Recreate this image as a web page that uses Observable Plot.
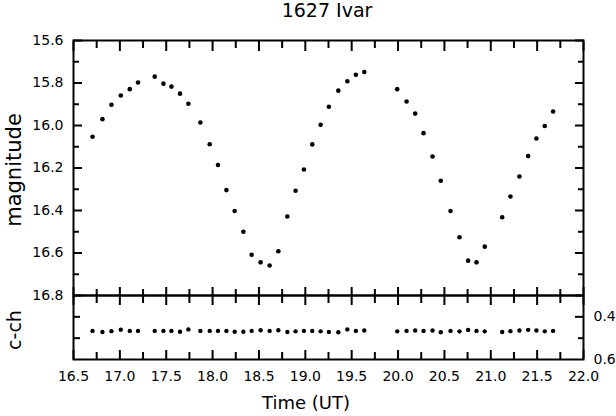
<!DOCTYPE html>
<html>
<head>
<meta charset="utf-8">
<script src="https://cdn.jsdelivr.net/npm/d3@7"></script>
<script src="https://cdn.jsdelivr.net/npm/@observablehq/plot@0.6"></script>
<style>
  body { margin: 0; background: #fff; }
  #chart { position: relative; width: 616px; height: 416px; overflow: hidden; background: #fff;
           font-family: "DejaVu Sans", sans-serif; color: #000; }
  #chart svg { position: absolute; left: 0; }
  .lbl { position: absolute; white-space: nowrap; line-height: 1; color: #000; }
</style>
</head>
<body>
<div id="chart"></div>
<script>
// ---- data ----
const times = [
  16.705, 16.812, 16.909, 17.010, 17.107, 17.196,
  17.376, 17.470, 17.556, 17.649, 17.739,
  17.868, 17.969, 18.058, 18.149, 18.238, 18.332, 18.421, 18.518, 18.615, 18.709,
  18.806, 18.895, 18.985, 19.075, 19.165, 19.254, 19.356, 19.453, 19.545, 19.636,
  19.991, 20.092, 20.185, 20.275, 20.372, 20.461, 20.566, 20.663, 20.756, 20.846, 20.935,
  21.123, 21.212, 21.309, 21.403, 21.492, 21.582, 21.672
];
const magnitudes = [
  16.053, 15.970, 15.902, 15.859, 15.829, 15.798,
  15.770, 15.803, 15.817, 15.850, 15.898,
  15.986, 16.088, 16.186, 16.304, 16.402, 16.500, 16.608, 16.644, 16.659, 16.592,
  16.428, 16.307, 16.207, 16.089, 15.997, 15.912, 15.836, 15.792, 15.761, 15.748,
  15.829, 15.887, 15.944, 16.036, 16.146, 16.260, 16.402, 16.526, 16.636, 16.644, 16.570,
  16.432, 16.334, 16.240, 16.144, 16.061, 16.002, 15.934
];
const cch = [
  0.466, 0.471, 0.467, 0.460, 0.466, 0.466,
  0.466, 0.466, 0.466, 0.470, 0.459,
  0.466, 0.466, 0.466, 0.466, 0.470, 0.470, 0.466, 0.463, 0.466, 0.463,
  0.471, 0.468, 0.466, 0.466, 0.468, 0.471, 0.472, 0.459, 0.466, 0.464,
  0.468, 0.466, 0.464, 0.466, 0.464, 0.472, 0.466, 0.468, 0.462, 0.466, 0.468,
  0.471, 0.467, 0.464, 0.461, 0.464, 0.468, 0.466
];

// tick values
const xMajor = [16.5, 17.0, 17.5, 18.0, 18.5, 19.0, 19.5, 20.0, 20.5, 21.0, 21.5, 22.0];
const xMinor = [16.75, 17.25, 17.75, 18.25, 18.75, 19.25, 19.75, 20.25, 20.75, 21.25, 21.75];
const magMajor = [15.6, 15.8, 16.0, 16.2, 16.4, 16.6, 16.8];
const magMinor = [15.7, 15.9, 16.1, 16.3, 16.5, 16.7];
const cchLabels = [0.4, 0.6];
const cchTicks = [0.4, 0.5];

const titleText = "1627 Ivar";
const xLabel = "Time (UT)";
const yLabel = "magnitude";
const y2Label = "c-ch";

const data = times.map((t, i) => ({t, mag: magnitudes[i], cch: cch[i]}));

const fmt1 = d => d.toFixed(1);
const common = {
  width: 616,
  marginLeft: 73,
  marginRight: 33,
  style: {fontFamily: "DejaVu Sans, sans-serif", fontSize: "14px", color: "#000", background: "none", overflow: "visible"}
};
const tk = (axis, o) => axis({fill: "none", label: null, strokeWidth: 2, ...o});

// ---- main panel ----
const main = Plot.plot({
  ...common,
  height: 297,
  marginTop: 40,
  marginBottom: 2,
  x: {domain: [16.5, 22]},
  y: {domain: [15.6, 16.8], reverse: true},
  marks: [
    Plot.axisY({anchor: "left", ticks: magMajor, tickSize: 0, tickPadding: 10, tickFormat: fmt1, label: null}),
    tk(Plot.axisY, {anchor: "left", ticks: magMajor, tickSize: -9}),
    tk(Plot.axisY, {anchor: "left", ticks: magMinor, tickSize: -6}),
    tk(Plot.axisY, {anchor: "right", ticks: magMajor, tickSize: -9}),
    tk(Plot.axisY, {anchor: "right", ticks: magMinor, tickSize: -6}),
    tk(Plot.axisX, {anchor: "top", ticks: xMajor, tickSize: -10}),
    tk(Plot.axisX, {anchor: "top", ticks: xMinor, tickSize: -7}),
    tk(Plot.axisX, {anchor: "bottom", ticks: xMajor, tickSize: -8}),
    tk(Plot.axisX, {anchor: "bottom", ticks: xMinor, tickSize: -6}),
    Plot.frame({strokeWidth: 2}),
    Plot.dot(data, {x: "t", y: "mag", r: 2.3, fill: "#000", stroke: "none"})
  ]
});
main.style.top = "0px";

// ---- colour-index panel ----
const lower = Plot.plot({
  ...common,
  height: 126,
  marginTop: 5,
  marginBottom: 57,
  x: {domain: [16.5, 22]},
  y: {domain: [0.3, 0.6], reverse: true},
  marks: [
    Plot.axisX({anchor: "bottom", ticks: xMajor, tickSize: 0, tickPadding: 12, tickFormat: fmt1, label: null}),
    Plot.axisY({anchor: "right", ticks: cchLabels, tickSize: 0, tickPadding: 10, tickFormat: fmt1, label: null}),
    tk(Plot.axisX, {anchor: "top", ticks: xMajor, tickSize: -9}),
    tk(Plot.axisX, {anchor: "top", ticks: xMinor, tickSize: -7}),
    tk(Plot.axisX, {anchor: "bottom", ticks: xMajor, tickSize: -9}),
    tk(Plot.axisX, {anchor: "bottom", ticks: xMinor, tickSize: -7}),
    tk(Plot.axisY, {anchor: "left", ticks: cchTicks, tickSize: -7}),
    tk(Plot.axisY, {anchor: "right", ticks: [cchTicks[0]], tickSize: -9}),
    tk(Plot.axisY, {anchor: "right", ticks: [cchTicks[1]], tickSize: -6}),
    Plot.frame({strokeWidth: 2}),
    Plot.dot(data, {x: "t", y: "cch", r: 2.2, fill: "#000", stroke: "none"})
  ]
});
lower.style.top = "290px";

const chart = document.getElementById("chart");
chart.append(main, lower);

function addLabel(text, css) {
  const d = document.createElement("div");
  d.className = "lbl";
  d.textContent = text;
  Object.assign(d.style, css);
  chart.append(d);
}
addLabel(titleText, {left: "327px", top: "1px", fontSize: "19px", transform: "translateX(-50%)"});
addLabel(xLabel, {left: "306px", top: "394px", fontSize: "18px", transform: "translateX(-50%)"});
addLabel(yLabel, {left: "14px", top: "170px", fontSize: "21px", transform: "translate(-50%,-50%) rotate(-90deg)"});
addLabel(y2Label, {left: "14px", top: "330px", fontSize: "19px", transform: "translate(-50%,-50%) rotate(-90deg)"});
</script>
</body>
</html>
